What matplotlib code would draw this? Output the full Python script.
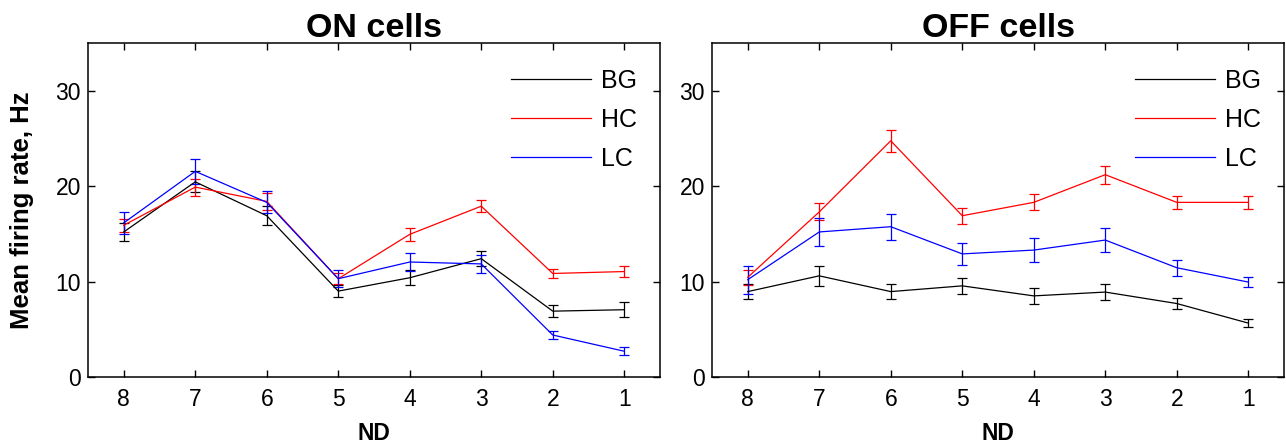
import matplotlib
matplotlib.use("Agg")
import matplotlib.pyplot as plt

plt.rcParams['font.family'] = ['Liberation Sans', 'DejaVu Sans']

nd = [8, 7, 6, 5, 4, 3, 2, 1]
labels = ['BG', 'HC', 'LC']
colors = {'BG': 'black', 'HC': 'red', 'LC': 'blue'}

# ON cells: mean firing rate and error (Hz)
on_bg = [15.2, 20.45, 16.9, 9.0, 10.4, 12.4, 6.9, 7.05]
on_bg_err = [0.9, 1.1, 1.0, 0.6, 0.8, 0.8, 0.6, 0.8]
on_hc = [15.9, 19.9, 18.4, 10.3, 14.95, 17.9, 10.85, 11.05]
on_hc_err = [0.7, 0.9, 0.85, 0.55, 0.7, 0.6, 0.5, 0.6]
on_lc = [16.15, 21.55, 18.3, 10.3, 12.05, 11.85, 4.4, 2.7]
on_lc_err = [1.15, 1.3, 1.15, 0.9, 0.95, 0.9, 0.4, 0.4]

# OFF cells
off_bg = [8.95, 10.6, 8.95, 9.55, 8.5, 8.9, 7.7, 5.65]
off_bg_err = [0.8, 1.05, 0.8, 0.8, 0.85, 0.85, 0.6, 0.45]
off_hc = [10.45, 17.3, 24.75, 16.9, 18.3, 21.2, 18.3, 18.3]
off_hc_err = [0.8, 0.9, 1.15, 0.85, 0.85, 0.95, 0.7, 0.7]
off_lc = [10.2, 15.2, 15.75, 12.9, 13.3, 14.35, 11.45, 9.95]
off_lc_err = [1.45, 1.45, 1.35, 1.15, 1.25, 1.25, 0.85, 0.5]

panels = [
    ('ON cells', {'BG': (on_bg, on_bg_err), 'HC': (on_hc, on_hc_err), 'LC': (on_lc, on_lc_err)}),
    ('OFF cells', {'BG': (off_bg, off_bg_err), 'HC': (off_hc, off_hc_err), 'LC': (off_lc, off_lc_err)}),
]

fig = plt.figure(figsize=(12.86, 4.46), dpi=100)
rects = [[88/1286, 69/446, 572/1286, 334/446],
         [712/1286, 69/446, 572/1286, 334/446]]

for i, (title, series) in enumerate(panels):
    ax = fig.add_axes(rects[i])
    for name in labels:
        y, err = series[name]
        ax.errorbar(nd, y, yerr=err, color=colors[name], lw=0.9,
                    elinewidth=0.9, capsize=3.6, capthick=0.9, label=name)
    ax.set_xlim(8.5, 0.5)
    ax.set_ylim(0, 35)
    ax.set_xticks(nd)
    ax.set_yticks([0, 10, 20, 30])
    ax.tick_params(direction='in', top=True, right=True, length=5,
                   width=1, labelsize=16.5)
    ax.tick_params(axis='y', pad=5)
    ax.tick_params(axis='x', pad=8)
    for sp in ax.spines.values():
        sp.set_linewidth(1.1)
    ax.set_title(title, fontsize=24.5, fontweight='bold', pad=4)
    ax.set_xlabel('ND', fontsize=16.5, fontweight='bold', labelpad=8)
    if i == 0:
        ax.set_ylabel('Mean firing rate, Hz', fontsize=18.5, fontweight='bold')
        ax.yaxis.set_label_coords(-0.094, 0.5)
    handles, labs = ax.get_legend_handles_labels()
    handles = [h[0] for h in handles]
    ax.legend(handles, labs, loc='upper right', frameon=False, fontsize=18,
              handlelength=3.2, handletextpad=0.4, labelspacing=0.6,
              borderaxespad=0, bbox_to_anchor=(0.977, 0.952))

fig.savefig('out.png', dpi=100)
